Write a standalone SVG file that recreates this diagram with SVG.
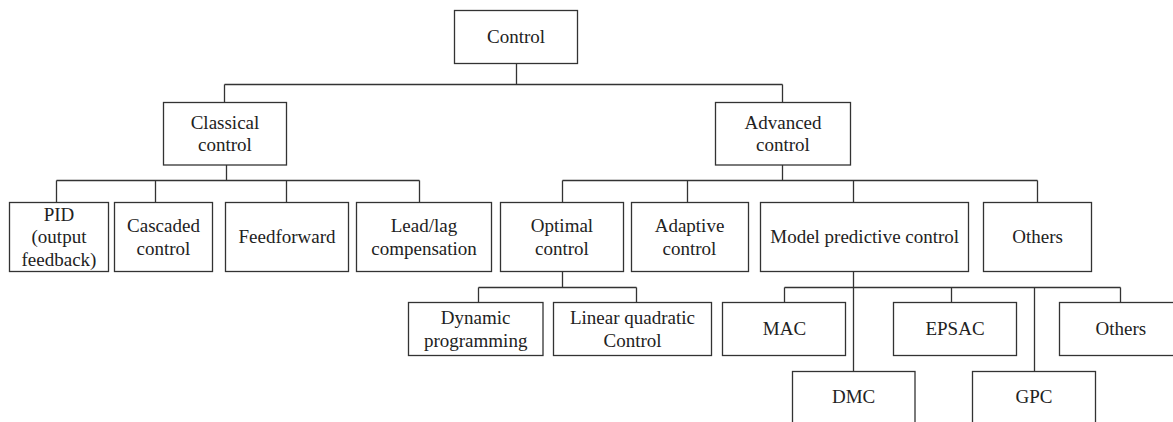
<svg xmlns="http://www.w3.org/2000/svg" width="1173" height="422" viewBox="0 0 1173 422">
<style>
.box{fill:#fff;stroke:#333;stroke-width:1.3}
.ln{fill:none;stroke:#333;stroke-width:1.3}
text{font-family:"Liberation Serif","Times New Roman",serif;font-size:19px;fill:#222;text-anchor:middle}
</style>
<rect width="1173" height="422" fill="#fff"/>
<g id="connectors">
<path class="ln" d="M516.5 63.5V84.5M224.5 84.5H782.5M224.5 84.5V102.5M782.5 84.5V102.5
M226.5 165V180.5M56.5 180.5H419.5M56.5 180.5V202.5M155.5 180.5V202.5M286.5 180.5V202.5M419.5 180.5V202.5
M782.5 165V180.5M562.5 180.5H1037.5M562.5 180.5V202.5M687.5 180.5V202.5M853.5 180.5V202.5M1037.5 180.5V202.5
M562.5 271.5V287.5M478.5 287.5H636.5M478.5 287.5V302.5M636.5 287.5V302.5
M853.5 271.5V371.5M784.5 287.5H1120.5M784.5 287.5V302.5M951.5 287.5V302.5M1120.5 287.5V302.5M1034.5 287.5V371.5"/>
</g>
<g id="control"><rect class="box" x="454.5" y="10.5" width="123" height="53"/><text x="516" y="43.3">Control</text></g>
<g id="classical"><rect class="box" x="163.5" y="102.5" width="123" height="62.5"/><text x="225" y="128.5">Classical</text><text x="225" y="151.2">control</text></g>
<g id="advanced"><rect class="box" x="715.5" y="102.5" width="135" height="62.5"/><text x="783" y="128.5">Advanced</text><text x="783" y="151.2">control</text></g>
<g id="pid"><rect class="box" x="9.5" y="202.5" width="99" height="69"/><text x="59" y="220.6">PID</text><text x="59" y="243.3">(output</text><text x="59" y="266">feedback)</text></g>
<g id="cascaded"><rect class="box" x="114.5" y="202.5" width="98" height="69"/><text x="163.5" y="232">Cascaded</text><text x="163.5" y="254.7">control</text></g>
<g id="feedforward"><rect class="box" x="225.5" y="202.5" width="123" height="69"/><text x="287" y="243.3">Feedforward</text></g>
<g id="leadlag"><rect class="box" x="356.5" y="202.5" width="135" height="69"/><text x="424" y="232">Lead/lag</text><text x="424" y="254.7">compensation</text></g>
<g id="optimal"><rect class="box" x="500.5" y="202.5" width="123" height="69"/><text x="562" y="232">Optimal</text><text x="562" y="254.7">control</text></g>
<g id="adaptive"><rect class="box" x="631.5" y="202.5" width="117" height="69"/><text x="689.5" y="232">Adaptive</text><text x="689.5" y="254.7">control</text></g>
<g id="mpc"><rect class="box" x="760.5" y="202.5" width="208" height="69"/><text x="864.7" y="243.3">Model predictive control</text></g>
<g id="others1"><rect class="box" x="983.5" y="202.5" width="108" height="69"/><text x="1037.6" y="243.3">Others</text></g>
<g id="dp"><rect class="box" x="408.5" y="302.5" width="134.5" height="53"/><text x="475.7" y="324">Dynamic</text><text x="475.7" y="346.7">programming</text></g>
<g id="lq"><rect class="box" x="553.5" y="302.5" width="158" height="53"/><text x="632.5" y="324">Linear quadratic</text><text x="632.5" y="346.7">Control</text></g>
<g id="mac"><rect class="box" x="722.5" y="302.5" width="123" height="53"/><text x="784.5" y="335.3">MAC</text></g>
<g id="epsac"><rect class="box" x="893.5" y="302.5" width="123" height="53"/><text x="955" y="335.3">EPSAC</text></g>
<g id="others2"><rect class="box" x="1059.5" y="302.5" width="130" height="53"/><text x="1120.8" y="335.3">Others</text></g>
<g id="dmc"><rect class="box" x="792.5" y="371.5" width="122.5" height="70"/><text x="853.6" y="403.3">DMC</text></g>
<g id="gpc"><rect class="box" x="972.5" y="371.5" width="123" height="70"/><text x="1034" y="403.3">GPC</text></g>
</svg>
